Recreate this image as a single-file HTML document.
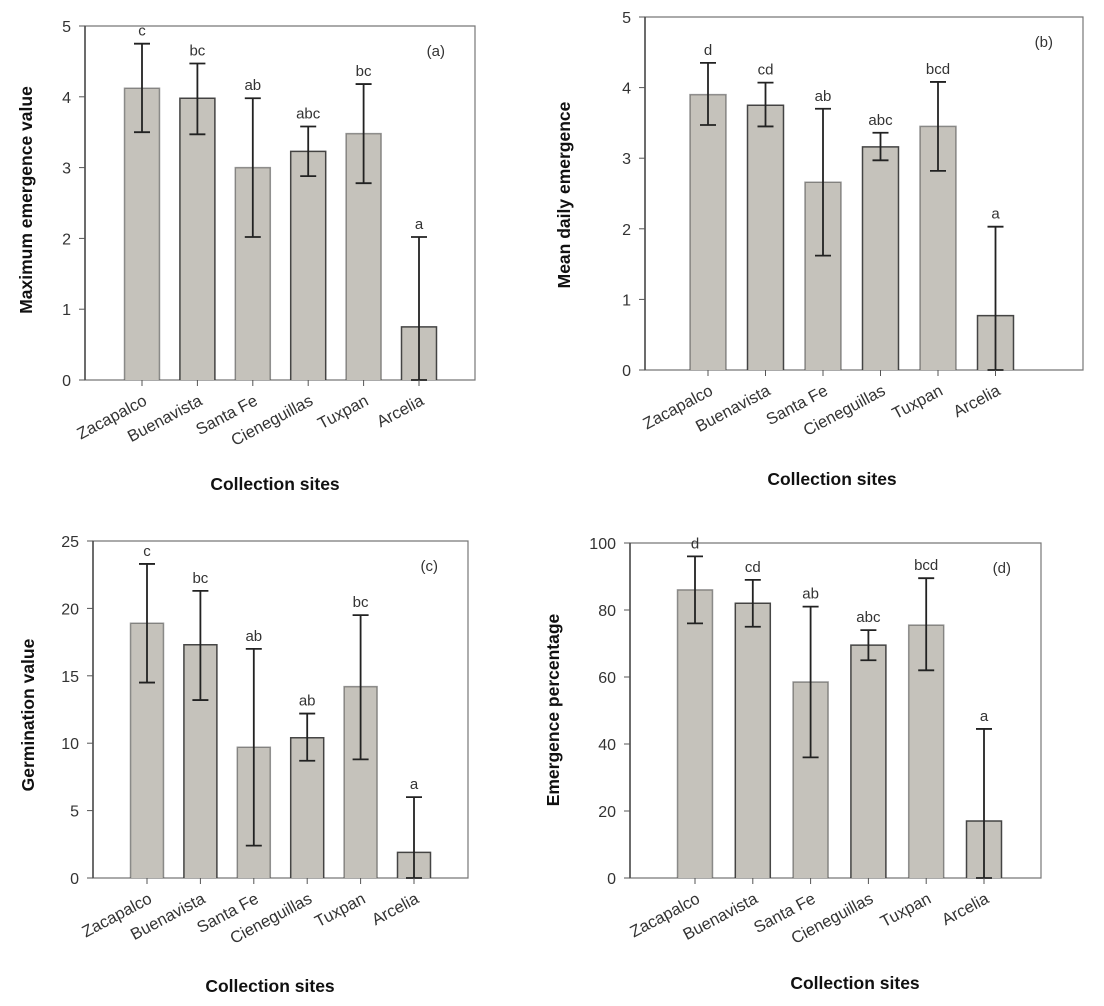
<!DOCTYPE html>
<html><head><meta charset="utf-8"><style>
body{margin:0;background:#fff;}
svg{display:block;font-family:"Liberation Sans",Arial,sans-serif;}
.tk{font-size:16px;fill:#333;}
.xk{font-size:16.5px;fill:#333;}
.lt{font-size:15px;fill:#333;}
.ttl{font-size:17.5px;font-weight:bold;fill:#111;}
</style></head><body>
<svg id="c" width="1104" height="1006" viewBox="0 0 1104 1006"></svg>
<script>
const categories=["Zacapalco","Buenavista","Santa Fe","Cieneguillas","Tuxpan","Arcelia"];
const valuesA=[4.12,3.98,3.0,3.23,3.48,0.75];
const lowA=[3.5,3.47,2.02,2.88,2.78,0];
const highA=[4.75,4.47,3.98,3.58,4.18,2.02];
const lettersA=["c","bc","ab","abc","bc","a"];
const valuesB=[3.9,3.75,2.66,3.16,3.45,0.77];
const lowB=[3.47,3.45,1.62,2.97,2.82,0];
const highB=[4.35,4.07,3.7,3.36,4.08,2.03];
const lettersB=["d","cd","ab","abc","bcd","a"];
const valuesC=[18.9,17.3,9.7,10.4,14.2,1.9];
const lowC=[14.5,13.2,2.4,8.7,8.8,0];
const highC=[23.3,21.3,17.0,12.2,19.5,6.0];
const lettersC=["c","bc","ab","ab","bc","a"];
const valuesD=[86,82,58.5,69.5,75.5,17];
const lowD=[76,75,36,65,62,0];
const highD=[96,89,81,74,89.5,44.5];
const lettersD=["d","cd","ab","abc","bcd","a"];
const ticksA=[0,1,2,3,4,5];
const ticksC=[0,5,10,15,20,25];
const ticksD=[0,20,40,60,80,100];

const NS="http://www.w3.org/2000/svg";
const svg=document.getElementById("c");
function mk(tag,attrs,parent,text){const e=document.createElementNS(NS,tag);for(const k in attrs)e.setAttribute(k,attrs[k]);if(text!==undefined)e.textContent=text;(parent||svg).appendChild(e);return e;}

function panel(p){
  const g=mk("g",{});
  
  
  const y=v=>p.y0-(v/p.ymax)*(p.y0-p.y1);
  const x=i=>p.xc0+i*p.step;
  const fr=mk("path",{d:`M${p.xl},${p.y1} L${p.xr},${p.y1} L${p.xr},${p.y0} L${p.xl},${p.y0} Z`,fill:"none",stroke:"#777","stroke-width":1.2},g);
  
  
  const ax=mk("line",{x1:p.xl,y1:p.y1,x2:p.xl,y2:p.y0,stroke:"#444","stroke-width":1.5},g);
  
  
  p.ticks.forEach(t=>{
    mk("line",{x1:p.xl-6,x2:p.xl,y1:y(t),y2:y(t),stroke:"#555"},g);
    const tl=mk("text",{x:p.xl-14,y:y(t)+6,"text-anchor":"end",class:"tk"},g,t);
    
    
  });
  const bw=p.bw;
  p.vals.forEach((v,i)=>{
    const cx=x(i);
    const b=mk("rect",{x:cx-bw/2,y:y(v),width:bw,height:y(0)-y(v),fill:"#c5c2bb"},g);
    
    
    mk("path",{d:`M${cx-bw/2},${y(0)} L${cx-bw/2},${y(v)} L${cx+bw/2},${y(v)} L${cx+bw/2},${y(0)}`,fill:"none",stroke:"#333","stroke-width":1.5,opacity:i%2?0.9:0.5},g);
    const e=mk("path",{d:`M${cx},${y(p.lo[i])} L${cx},${y(p.hi[i])} M${cx-8},${y(p.hi[i])} L${cx+8},${y(p.hi[i])} M${cx-8},${y(p.lo[i])} L${cx+8},${y(p.lo[i])}`,stroke:"#222","stroke-width":1.8,fill:"none"},g);
    
    
    const l=mk("text",{x:cx,y:y(p.hi[i])-8,"text-anchor":"middle",class:"lt"},g,p.letters[i]);
    
    
    mk("line",{x1:cx,x2:cx,y1:y(0),y2:y(0)+6,stroke:"#555"},g);
    const ax2=cx+6, ay=y(0)+24;
    const xl=mk("text",{x:ax2,y:ay,"text-anchor":"end",class:"xk",transform:`rotate(-28 ${ax2} ${ay})`},g,categories[i]);
    
    
  });
  const pl=mk("text",{x:p.xr-30,y:p.y1+30,"text-anchor":"end",class:"lt"},g,p.tag);
  
  
  const yt=mk("text",{x:p.ytx,y:p.yty,"text-anchor":"middle",class:"ttl",transform:`rotate(-90 ${p.ytx} ${p.yty})`},g,p.ytitle);
  
  
  const xt=mk("text",{x:p.xtx,y:p.xty,"text-anchor":"middle",class:"ttl"},g,"Collection sites");
  
  
}
panel({name:"panel-a",xl:85,xr:475,y0:380,y1:26,ymax:5,ticks:ticksA,xc0:142,step:55.4,bw:35,vals:valuesA,lo:lowA,hi:highA,letters:lettersA,tag:"(a)",ytitle:"Maximum emergence value",ytx:32,yty:200,xtx:275,xty:490});
panel({name:"panel-b",xl:645,xr:1083,y0:370,y1:17,ymax:5,ticks:ticksA,xc0:708,step:57.5,bw:36,vals:valuesB,lo:lowB,hi:highB,letters:lettersB,tag:"(b)",ytitle:"Mean daily emergence",ytx:570,yty:195,xtx:832,xty:485});
panel({name:"panel-c",xl:93,xr:468,y0:878,y1:541,ymax:25,ticks:ticksC,xc0:147,step:53.4,bw:33,vals:valuesC,lo:lowC,hi:highC,letters:lettersC,tag:"(c)",ytitle:"Germination value",ytx:34,yty:715,xtx:270,xty:992});
panel({name:"panel-d",xl:630,xr:1041,y0:878,y1:543,ymax:100,ticks:ticksD,xc0:695,step:57.8,bw:35,vals:valuesD,lo:lowD,hi:highD,letters:lettersD,tag:"(d)",ytitle:"Emergence percentage",ytx:559,yty:710,xtx:855,xty:989});
</script>
</body></html>
